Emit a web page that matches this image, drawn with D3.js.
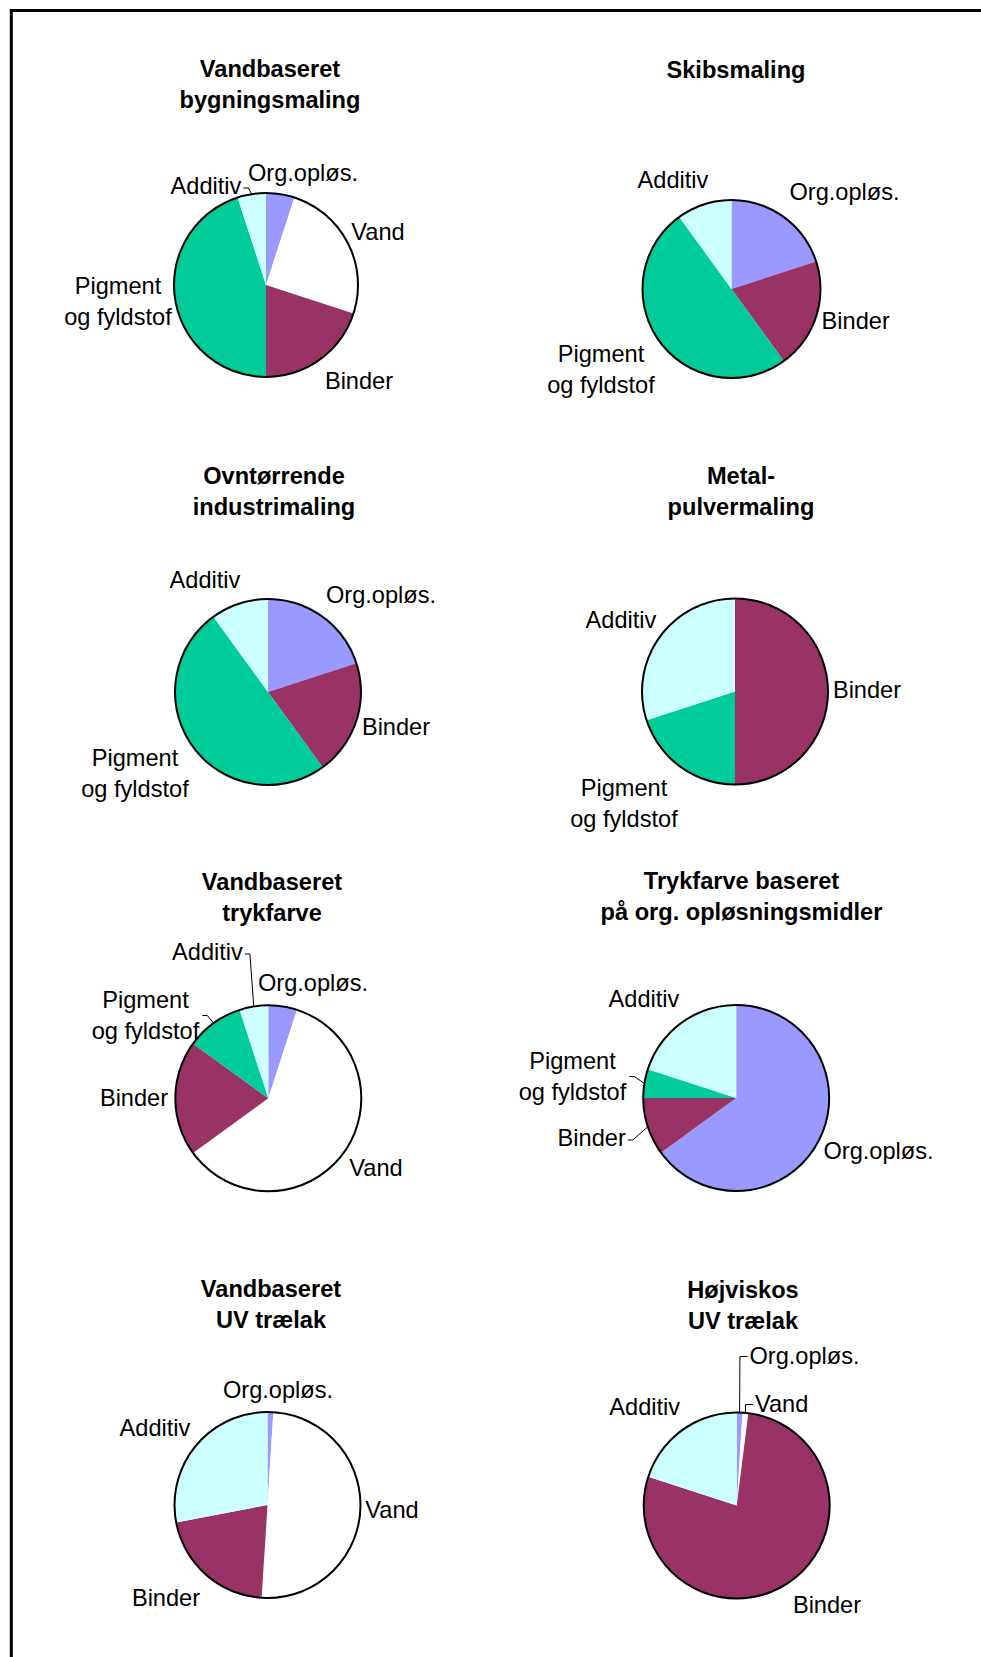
<!DOCTYPE html>
<html>
<head>
<meta charset="utf-8">
<script src="https://cdn.jsdelivr.net/npm/d3@7/dist/d3.min.js"></script>
<style>
  html, body { margin: 0; padding: 0; background: #fff; }
  svg { display: block; }
  text { font-family: "Liberation Sans", Arial, Helvetica, sans-serif; fill: #000; }
</style>
</head>
<body>
<svg id="chart" width="981" height="1657"></svg>
<script>
// Composition of paint and ink products (share of each component, %)
const categories = ["Org.opløs.", "Vand", "Binder", "Pigment og fyldstof", "Additiv"];
const categoryLines = [["Org.opløs."], ["Vand"], ["Binder"], ["Pigment", "og fyldstof"], ["Additiv"]];

const chartTitles = [
  ["Vandbaseret", "bygningsmaling"],
  ["Skibsmaling"],
  ["Ovntørrende", "industrimaling"],
  ["Metal-", "pulvermaling"],
  ["Vandbaseret", "trykfarve"],
  ["Trykfarve baseret", "på org. opløsningsmidler"],
  ["Vandbaseret", "UV trælak"],
  ["Højviskos", "UV trælak"]
];

// One value per product, in the order of chartTitles
const orgOplos = [5, 20, 20, 0, 5, 65, 1, 1];
const vand     = [25, 0, 0, 0, 60, 0, 50, 1];
const binder   = [20, 20, 20, 50, 20, 10, 21, 78];
const pigment  = [45, 50, 50, 20, 10, 5, 0, 0];
const additiv  = [5, 10, 10, 30, 5, 20, 28, 20];

const seriesByCategory = [orgOplos, vand, binder, pigment, additiv];

// Styling
const sliceColors = ["#9999FF", "#FFFFFF", "#993366", "#00CC99", "#CCFFFF"];
const titleFontSize = 23.6;
const labelFontSize = 23.6;
const titleLineGap = 30.5;
const labelLineGap = 31;
const labelShift = 1;

// Placement of each pie, its title and its data labels (label: [centre x, first baseline, leader side])
const chartLayout = [
  { cx: 266,   cy: 285,    r: 92, tx: 270,   ty: 77,
    labels: [[303, 180], [378, 239], [359, 388], [118, 293], [206, 193, "r"]] },
  { cx: 731.5, cy: 289,    r: 89, tx: 736,   ty: 78,
    labels: [[844.5, 199], null, [855.7, 328], [601, 361], [673, 187]] },
  { cx: 268,   cy: 692,    r: 93, tx: 274,   ty: 484,
    labels: [[381, 602], null, [396, 734], [135, 765], [205, 587]] },
  { cx: 735,   cy: 691.5,  r: 93, tx: 741,   ty: 484,
    labels: [null, null, [867, 697], [624, 795], [621, 627]] },
  { cx: 268.3, cy: 1098.3, r: 93, tx: 272,   ty: 890,
    labels: [[313, 990], [376, 1175], [134, 1105], [145.5, 1007, "r2"], [207.5, 959, "r"]] },
  { cx: 736.2, cy: 1098,   r: 93, tx: 741.5, ty: 889,
    labels: [[878.5, 1158], null, [591.7, 1145, "r"], [572.5, 1068, "r2"], [644, 1006]] },
  { cx: 267.5, cy: 1505,   r: 93, tx: 271,   ty: 1297,
    labels: [[278, 1397], [392, 1517], [166, 1605], null, [155, 1435]] },
  { cx: 736.7, cy: 1505.5, r: 93, tx: 743,   ty: 1298,
    labels: [[804.5, 1363, "l"], [781.7, 1411, "l"], [827, 1612], null, [644.7, 1414]] }
];

const svg = d3.select("#chart");

// Outer frame (top and left edges visible)
svg.append("path")
  .attr("d", "M11.3,1700 V10.5 H1000")
  .attr("fill", "none")
  .attr("stroke", "#000")
  .attr("stroke-width", 3);

const color = d3.scaleOrdinal().domain(categories).range(sliceColors);
const pie = d3.pie().sort(null).value(d => d.value).startAngle(0).endAngle(2 * Math.PI);

chartTitles.forEach((titleLines, i) => {
  const L = chartLayout[i];
  const rows = categories.map((c, k) => ({ cat: c, idx: k, value: seriesByCategory[k][i] }));
  const arcs = pie(rows);
  const arc = d3.arc().innerRadius(0).outerRadius(L.r);
  const edge = d3.arc().innerRadius(L.r).outerRadius(L.r);

  // Title
  const title = svg.append("text")
    .attr("text-anchor", "middle")
    .attr("font-weight", "bold")
    .attr("font-size", titleFontSize);
  titleLines.forEach((t, j) => {
    title.append("tspan").attr("x", L.tx).attr("y", L.ty + j * titleLineGap).text(t);
  });

  // Slices
  const g = svg.append("g").attr("transform", `translate(${L.cx},${L.cy})`);
  g.selectAll("path.slice")
    .data(arcs.filter(d => d.data.value > 0))
    .join("path")
    .attr("class", "slice")
    .attr("d", arc)
    .attr("fill", d => color(d.data.cat));

  g.append("circle")
    .attr("r", L.r)
    .attr("fill", "none")
    .attr("stroke", "#000")
    .attr("stroke-width", 2);

  // Data labels with leader lines
  arcs.forEach(d => {
    const spec = L.labels[d.data.idx];
    if (!spec || d.data.value <= 0) return;
    const lx = spec[0], ly = spec[1] + labelShift, side = spec[2];
    const lines = categoryLines[d.data.idx];
    const t = svg.append("text")
      .attr("text-anchor", "middle")
      .attr("font-size", labelFontSize);
    lines.forEach((s, j) => {
      t.append("tspan").attr("x", lx).attr("y", ly + j * labelLineGap).text(s);
    });
    if (!side) return;

    const widths = [];
    t.selectAll("tspan").each(function () { widths.push(this.getComputedTextLength()); });
    const w = d3.max(widths);
    const [ex, ey] = edge.centroid(d);
    const tx = L.cx + ex, ty = L.cy + ey;
    let sx, sy, hx;
    if (side === "r") { sx = lx + w / 2 + 2; sy = ly - 6; hx = sx + 5; }
    else if (side === "r2") { sx = lx + w / 2 + 3; sy = ly + 7.5; hx = sx + 5; }
    else { sx = lx - w / 2 - 2; sy = ly - 7.5; hx = sx - 7.5; }
    svg.append("path")
      .attr("d", `M${sx},${sy} H${hx} L${tx},${ty}`)
      .attr("fill", "none")
      .attr("stroke", "#000")
      .attr("stroke-width", 1);
  });
});
</script>
</body>
</html>
